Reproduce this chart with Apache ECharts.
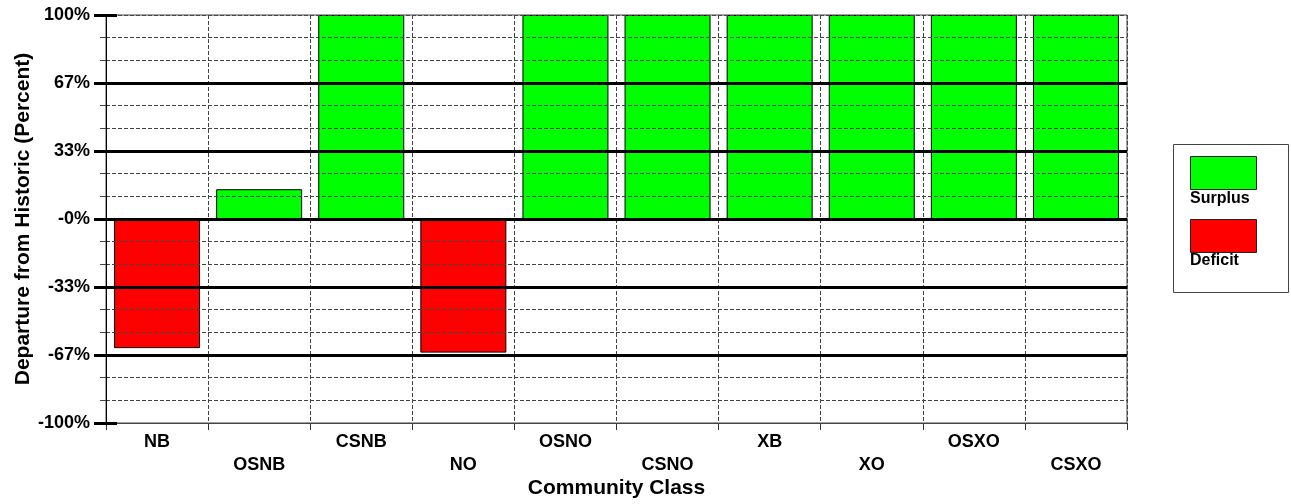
<!DOCTYPE html>
<html>
<head>
<meta charset="utf-8">
<script src="https://cdn.jsdelivr.net/npm/echarts@6/dist/echarts.min.js"></script>
<style>
html,body{margin:0;padding:0;background:#fff;}
#chart{width:1291px;height:504px;}
</style>
</head>
<body>
<div id="chart"></div>
<script>
const categories = ['NB','OSNB','CSNB','NO','OSNO','CSNO','XB','XO','OSXO','CSXO'];
const surplus = [null, 14.6, 100, null, 100, 100, 100, 100, 100, 100];
const deficit = [-63.3, null, null, -65.5, null, null, null, null, null, null];
const yTickLabels = ['-100%','-67%','-33%','-0%','33%','67%','100%'];
const seriesNames = ['Surplus','Deficit'];
const seriesColors = ['#00ff00','#ff0000'];

const FONT = "'Liberation Sans', Arial, sans-serif";
const minor = 100 / 9;
const major = 100 / 3;

const chart = echarts.init(document.getElementById('chart'), null, {renderer:'canvas'});
const option = {
  animation: false,
  backgroundColor: '#fff',
  textStyle: {fontFamily: FONT},
  grid: {left: 106, right: 164, top: 15, bottom: 81, show: true, borderColor: '#444', borderWidth: 1, backgroundColor: 'transparent', containLabel: false, outerBoundsMode: 'none'},
  xAxis: [{
    type: 'category',
    data: categories,
    boundaryGap: true,
    axisLine: {show: true, onZero: false, lineStyle: {color: '#444', width: 1}},
    axisTick: {show: true, interval: 0, length: 7, lineStyle: {color: '#333'}},
    splitLine: {show: true, interval: 0, lineStyle: {color: '#444', width: 1, type: [4, 2]}},
    axisLabel: {
      interval: 0, margin: 8, fontSize: 18, fontWeight: 'bold', color: '#000', lineHeight: 23, fontFamily: FONT,
      formatter: (v, i) => (i % 2 ? '\n' + v : v)
    },
    name: 'Community Class',
    nameLocation: 'middle',
    nameGap: 55,
    nameMoveOverlap: false,
    nameTextStyle: {fontSize: 21, fontWeight: 'bold', color: '#000', fontFamily: FONT}
  }],
  yAxis: [{
    type: 'value', min: -100, max: 100, interval: minor, z: 3,
    axisLine: {show: true, lineStyle: {color: '#000', width: 1}},
    axisTick: {show: true, length: 6, lineStyle: {color: '#444', width: 1}},
    splitLine: {show: true, lineStyle: {color: '#444', width: 1, type: [4, 2]}},
    axisLabel: {
      margin: 16, fontSize: 18, fontWeight: 'bold', color: '#000', fontFamily: FONT,
      formatter: (v) => { const i = Math.round((v + 100) / minor); return i % 3 === 0 ? yTickLabels[i / 3] : ''; }
    },
    name: 'Departure from Historic (Percent)',
    nameLocation: 'middle',
    nameGap: 72,
    nameMoveOverlap: false,
    nameTextStyle: {fontSize: 21, fontWeight: 'bold', color: '#000', fontFamily: FONT}
  }, {
    type: 'value', min: -100, max: 100, interval: major, position: 'left', z: 4,
    axisLine: {show: false},
    axisLabel: {show: false},
    axisTick: {show: true, length: 12, lineStyle: {color: '#000', width: 3}},
    splitLine: {show: true, lineStyle: {color: ['rgba(0,0,0,0)', '#000', '#000', '#000', '#000', '#000', 'rgba(0,0,0,0)'], width: 3}}
  }, {
    type: 'value', min: -100, max: 100, interval: 100, position: 'left', z: 4,
    axisLine: {show: false},
    axisLabel: {show: false},
    splitLine: {show: false},
    axisTick: {show: true, inside: true, length: 11, lineStyle: {color: '#000', width: 3}}
  }],
  series: [{
    name: seriesNames[0], type: 'bar', data: surplus, barWidth: 86, barGap: '-100%',
    itemStyle: {color: seriesColors[0], borderColor: '#000', borderWidth: 1}
  }, {
    name: seriesNames[1], type: 'bar', data: deficit, barWidth: 86, barGap: '-100%',
    itemStyle: {color: seriesColors[1], borderColor: '#000', borderWidth: 1}
  }],
  graphic: [
    {type: 'rect', shape: {x: 1173.5, y: 144.5, width: 115, height: 148}, style: {fill: '#fff', stroke: '#444', lineWidth: 1}},
    {type: 'rect', shape: {x: 1190.5, y: 156.5, width: 66, height: 33}, style: {fill: seriesColors[0], stroke: '#222', lineWidth: 1}},
    {type: 'text', x: 1190, y: 199, style: {text: seriesNames[0], font: 'bold 16px ' + FONT, fill: '#000', verticalAlign: 'middle'}},
    {type: 'rect', shape: {x: 1190.5, y: 219.5, width: 66, height: 33}, style: {fill: seriesColors[1], stroke: '#222', lineWidth: 1}},
    {type: 'text', x: 1190, y: 261, style: {text: seriesNames[1], font: 'bold 16px ' + FONT, fill: '#000', verticalAlign: 'middle'}}
  ]
};
chart.setOption(option);
</script>
</body>
</html>
